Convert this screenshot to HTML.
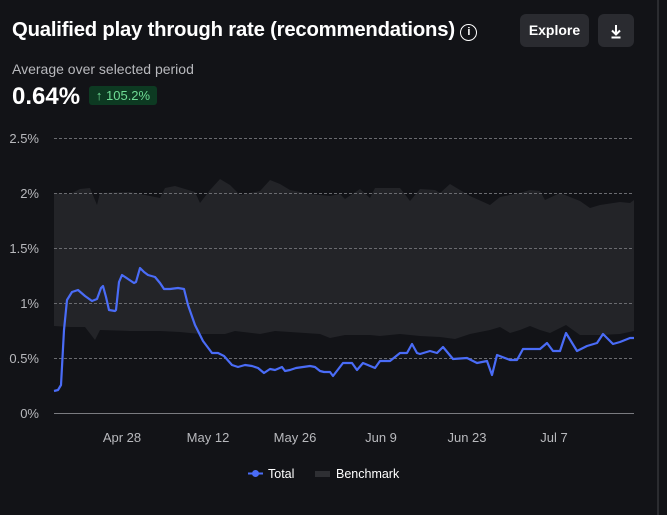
<!DOCTYPE html>
<html><head><meta charset="utf-8"><style>
body{margin:0;background:#121317;width:667px;height:515px;overflow:hidden;font-family:"Liberation Sans",sans-serif;color:#fff;position:relative}
.t{position:absolute;left:12px;top:19px;font-size:20.3px;font-weight:bold;letter-spacing:-0.2px;white-space:nowrap}
.btn{position:absolute;top:14px;height:33px;background:#2a2b30;border-radius:6px;font-weight:bold;font-size:14px;line-height:33px;text-align:center}
.sub{position:absolute;left:12px;top:61px;font-size:14px;color:#b8b9bd}
.big{position:absolute;left:12px;top:83px;font-size:24px;font-weight:bold}
.badge{position:absolute;left:89px;top:86px;width:68px;height:19px;background:#0d3a22;color:#6fdc95;border-radius:3px;font-size:13px;line-height:19px;text-align:center}
.bd{position:absolute;left:657px;top:0;width:2px;height:515px;background:#2b2c30}
</style></head><body>
<div class="t">Qualified play through rate (recommendations) <span style="display:inline-block;width:15px;height:15px;border:1.6px solid #fff;border-radius:50%;font-size:11px;line-height:15px;text-align:center;vertical-align:1px">i</span></div>
<div class="btn" style="left:520px;width:69px">Explore</div>
<div class="btn" style="left:598px;width:36px"><svg width="36" height="33"><path d="M18,11 V20 M14,16.5 L18,20.5 22,16.5 M13.5,23.5 H22.5" stroke="#fff" stroke-width="2" fill="none"/></svg></div>
<div class="sub">Average over selected period</div>
<div class="big">0.64%</div>
<div class="badge">↑ 105.2%</div>
<div class="bd"></div>
<svg width="667" height="515" style="position:absolute;left:0;top:0">
<path fill="#232428" d="M54,193 L70,194 80,189 90,188 97,205 100,193 130,192 160,198 165,188 175,186 195,192 200,203 210,190 220,179 230,185 240,195 260,191 270,180 280,184 290,190 310,194 330,196 340,194 345,199 360,189 370,198 375,188 400,188 410,201 420,189 435,190 440,193 450,184 470,196 490,205 500,197 520,193 530,190 540,191 545,200 560,193 580,201 590,208 600,205 620,202 630,203 634,200 L634,331 620,334 600,335 580,335 566,325 550,333 540,330 530,326 520,330 510,333 500,327 490,330 470,334 455,339 440,337 420,336 400,334 380,336 370,335 345,335 330,338 320,334 290,332 275,331 260,334 235,331 225,334 200,334 180,332 160,331 130,331 100,330 95,340 85,327 70,327 54,326Z"/>
<g stroke="#6a6b70" stroke-dasharray="3,2" stroke-width="1">
<line x1="54" x2="634" y1="138.5" y2="138.5"/><line x1="54" x2="634" y1="193.5" y2="193.5"/><line x1="54" x2="634" y1="248.5" y2="248.5"/><line x1="54" x2="634" y1="303.5" y2="303.5"/><line x1="54" x2="634" y1="358.5" y2="358.5"/></g>
<line x1="54" x2="634" y1="413.5" y2="413.5" stroke="#7a7b80"/>
<g fill="#b8b9bd" font-size="13" text-anchor="end"><text x="39" y="143">2.5%</text><text x="39" y="198">2%</text><text x="39" y="253">1.5%</text><text x="39" y="308">1%</text><text x="39" y="363">0.5%</text><text x="39" y="418">0%</text></g>
<g fill="#b8b9bd" font-size="13" text-anchor="middle"><text x="122" y="442">Apr 28</text><text x="208" y="442">May 12</text><text x="295" y="442">May 26</text><text x="381" y="442">Jun 9</text><text x="467" y="442">Jun 23</text><text x="554" y="442">Jul 7</text></g>
<polyline fill="none" stroke="#4a6cf7" stroke-width="2.2" stroke-linejoin="round" points="54,391 58,390 61,385 64,330 67,300 72,292 78,290 85,296 92,301 97,299 101,288 103,286 106,297 109,310 115,311 116,310 119,282 122,275 128,279 134,283 136,282 140,268 144,272 148,275 155,277 160,283 164,289 170,289 178,288 184,289 188,305 195,325 203,341 212,353 218,353 224,356 232,365 238,367 245,365 252,366 258,368 264,373 270,369 275,370 282,367 285,371 290,370 296,368 303,367 310,366 315,367 320,371 324,372 330,372 333,376 343,363 352,363 357,370 363,363 375,368 380,361 390,361 400,353 407,353 412,344 417,353 420,354 430,351 437,353 443,347 453,359 467,358 477,363 487,361 492,375 497,355 510,360 517,360 523,349 540,349 547,343 553,351 560,351 566,333 577,351 587,346 597,343 603,334 613,344 620,342 630,338 634,338"/>
<line x1="248" x2="263" y1="473.5" y2="473.5" stroke="#4a6cf7" stroke-width="2"/><circle cx="255.5" cy="473.5" r="3.5" fill="#4a6cf7"/>
<text x="268" y="478" font-size="12.5" fill="#fff">Total</text>
<rect x="315" y="471" width="15" height="6" fill="#2e2f33"/>
<text x="336" y="478" font-size="12.5" fill="#fff">Benchmark</text>
</svg>
</body></html>
